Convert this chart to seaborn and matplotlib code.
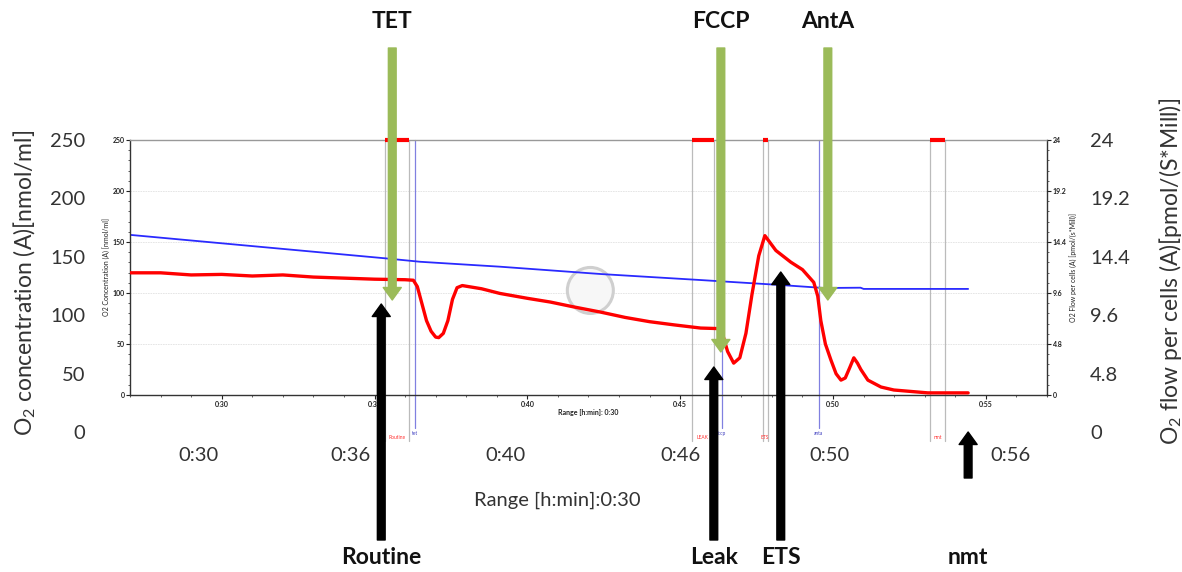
import matplotlib
matplotlib.use("Agg")
import matplotlib.pyplot as plt
import matplotlib.transforms as mtransforms
from matplotlib.patches import FancyArrowPatch, Ellipse
from matplotlib.ticker import MultipleLocator, FuncFormatter
import seaborn as sns
import pandas as pd

# ---------------- data ----------------
conc_time = [27.0, 35.35, 36.5, 39.1, 42.4, 45.67, 48.3, 49.7, 50.9, 51.0, 54.42]
conc_vals = [157, 134, 130.6, 125.8, 118.6, 112.7, 107.8, 104.9, 105.2, 104.0, 104.0]

flow_time = [27.0, 28.0, 29.0, 30.0, 31.0, 32.0, 33.0, 34.0, 35.0, 36.0, 36.27,
             36.4, 36.55, 36.7, 36.85, 37.0, 37.1, 37.25, 37.4, 37.55, 37.7, 37.87,
             38.5, 39.1, 40.0, 40.75, 41.5, 42.4, 43.2, 44.0, 44.8, 45.67, 46.26,
             46.4, 46.55, 46.75, 46.95, 47.15, 47.35, 47.57, 47.77, 47.95, 48.13,
             48.62, 49.0, 49.37, 49.5, 49.6, 49.75, 49.93, 50.1, 50.26, 50.4, 50.55,
             50.68, 50.8, 50.91, 51.14, 51.57, 51.99, 53.1, 54.42]
flow_vals = [11.5, 11.5, 11.3, 11.35, 11.2, 11.3, 11.1, 11.0, 10.9, 10.85, 10.8,
             10.2, 8.6, 7.0, 6.0, 5.45, 5.4, 5.8, 7.0, 9.0, 10.1, 10.3,
             10.0, 9.56, 9.1, 8.75, 8.3, 7.8, 7.3, 6.9, 6.6, 6.3, 6.25,
             5.6, 4.1, 3.0, 3.5, 5.8, 9.5, 13.1, 15.0, 14.3, 13.6,
             12.5, 11.8, 10.6, 9.3, 7.0, 4.8, 3.3, 2.0, 1.4, 1.6, 2.6,
             3.5, 3.0, 2.4, 1.4, 0.75, 0.47, 0.2, 0.2]

left_ticks = [0, 50, 100, 150, 200, 250]
right_ticks = [0, 4.8, 9.6, 14.4, 19.2, 24]
right_tick_labels = ["0", "4.8", "9.6", "14.4", "19.2", "24"]
inner_x_ticks = [30, 35, 40, 45, 50, 55]
outer_x_labels = ["0:30", "0:36", "0:40", "0:46", "0:50", "0:56"]

mark_names = ["Routine", "LEAK", "ETS", "nmt"]
mark_start = [35.35, 45.38, 47.70, 53.17]
mark_end = [36.14, 46.10, 47.86, 53.66]
event_names = ["tet", "fccp", "anta"]
event_time = [36.33, 46.36, 49.53]

titration_labels = ["TET", "FCCP", "AntA"]
titration_time = [35.58, 46.33, 49.83]
state_labels = ["Routine", "Leak", "ETS", "nmt"]
state_time = [35.22, 46.10, 48.29, 54.42]

# ---------------- layout constants ----------------
W, H = 1182, 572
outer_x_label_pos = [29.23, 34.2, 39.3, 45.0, 49.9, 55.8]
titration_tip_px = [300, 352, 300]
state_tip_px = [304, 367, 272, 432]
state_base_px = [540, 540, 540, 478]

sns.set_theme(style="white")
plt.rcParams["font.family"] = ["Lato", "DejaVu Sans"]
plt.rcParams["mathtext.fontset"] = "custom"
plt.rcParams["mathtext.rm"] = "Lato"

fig = plt.figure(figsize=(W / 100, H / 100), dpi=100)
fig.patch.set_facecolor("white")

def fx(px):
    return px / W

def fy(py):
    return 1 - py / H

# outer (overlay) axes for the big labels
axo = fig.add_axes([fx(130), fy(432), fx(1047) - fx(130), fy(140) - fy(432)])
axo.set_zorder(-2)
axo.patch.set_visible(False)
for s in axo.spines.values():
    s.set_visible(False)
axo.set_xlim(27, 57)
axo.set_ylim(0, 250)
axo.set_yticks(left_ticks)
axo.set_xticks(outer_x_label_pos)
axo.set_xticklabels(outer_x_labels)
axo.tick_params(axis="both", length=0, labelsize=14.5, colors="#333333")
axo.tick_params(axis="y", pad=32)
axo.tick_params(axis="x", pad=11)
axo.set_ylabel(r"O$_\mathregular{2}$ concentration (A)[nmol/ml]", fontsize=16.5,
               color="#333333")
axo.yaxis.set_label_coords(-0.1, 0.51)
axo.set_xlabel("Range [h:min]:0:30", fontsize=14.5, color="#333333")
axo.xaxis.set_label_coords((557 - 130) / 917, -0.205)

axo2 = axo.twinx()
axo2.set_zorder(-2)
axo2.patch.set_visible(False)
for s in axo2.spines.values():
    s.set_visible(False)
axo2.set_ylim(0, 24)
axo2.set_yticks(right_ticks)
axo2.set_yticklabels(right_tick_labels)
axo2.tick_params(axis="y", length=0, labelsize=14.5, colors="#333333", pad=31)
axo2.set_ylabel(r"O$_\mathregular{2}$ flow per cells (A)[pmol/(S*Mill)]", fontsize=16.5,
                color="#333333", rotation=90)
axo2.yaxis.set_label_coords(1.12, 0.55)

# inner (instrument) axes
ax = fig.add_axes([fx(130), fy(395), fx(1047) - fx(130), fy(140) - fy(395)])
ax.set_facecolor("white")
df_c = pd.DataFrame({"t": conc_time, "v": conc_vals})
df_f = pd.DataFrame({"t": flow_time, "v": flow_vals})

# mark boxes / events
for name, a, b in zip(mark_names, mark_start, mark_end):
    for xx in (a, b):
        ax.axvline(xx, ymin=-0.18, ymax=1, color="#BBBBBB", lw=0.9, clip_on=False, zorder=1)
    ax.hlines(250, a, b, color="#FF0000", lw=3, clip_on=False, zorder=3)
    ax.text((a + b) / 2, -0.165, name, color="#FF3030", fontsize=3.5,
            ha="center", va="center",
            transform=mtransforms.blended_transform_factory(ax.transData, ax.transAxes))
for name, t in zip(event_names, event_time):
    ax.axvline(t, ymin=-0.13, ymax=1, color="#8080E0", lw=0.9, clip_on=False, zorder=1)
    ax.text(t, -0.14, name, color="#4040C0", fontsize=3.5, ha="center", va="top",
            transform=mtransforms.blended_transform_factory(ax.transData, ax.transAxes))

for yy in [50, 100, 150, 200]:
    ax.axhline(yy, color="#E2E2E2", lw=0.6, ls=(0, (2, 1)), zorder=0)

sns.lineplot(data=df_c, x="t", y="v", ax=ax, color="#2A2AFF", lw=1.3, zorder=2)
ax.set_xlim(27, 57)
ax.set_ylim(0, 250)
ax.set_xticks(inner_x_ticks)
ax.xaxis.set_major_formatter(FuncFormatter(lambda v, p: "0:%02d" % int(round(v))))
ax.xaxis.set_minor_locator(MultipleLocator(1))
ax.set_yticks(left_ticks)
ax.yaxis.set_minor_locator(MultipleLocator(10))
ax.tick_params(axis="both", which="major", length=3, width=0.8, labelsize=5,
               colors="#222222", pad=1, direction="out")
ax.tick_params(axis="both", which="minor", length=1.5, width=0.6, colors="#444444")
ax.tick_params(axis="x", which="both", bottom=True)
ax.tick_params(axis="y", which="both", left=True)
ax.set_xlabel("Range [h:min]: 0:30", fontsize=5, fontweight="bold", labelpad=1, color="#222222")
ax.set_ylabel("O2 Concentration (A) [nmol/ml]", fontsize=5, labelpad=2, color="#222222")
for s in ["left", "bottom", "right"]:
    ax.spines[s].set_color("#333333")
    ax.spines[s].set_linewidth(1.0)
ax.spines["top"].set_color("#999999")
ax.spines["top"].set_linewidth(1.0)
for lab in ax.get_xticklabels() + ax.get_yticklabels():
    lab.set_fontweight("bold")

# watermark logo
ax.add_patch(Ellipse((0.502, 0.41), 46 / 917, 46 / 255, transform=ax.transAxes,
                     facecolor="#F7F7F7", edgecolor="#CFCFCF", lw=2.2, zorder=0.5))

ax2 = ax.twinx()
sns.lineplot(data=df_f, x="t", y="v", ax=ax2, color="#FF0000", lw=2.4, zorder=3)
ax2.set_ylim(0, 24)
ax2.set_yticks(right_ticks)
ax2.set_yticklabels(right_tick_labels)
ax2.yaxis.set_minor_locator(MultipleLocator(0.96))
ax2.tick_params(axis="y", which="major", length=3, width=0.8, labelsize=5, colors="#222222",
                pad=1, right=True)
ax2.tick_params(axis="y", which="minor", length=1.5, width=0.6, right=True, colors="#444444")
ax2.set_ylabel("O2 Flow per cells (A) [pmol/(s*Mill)]", fontsize=5, color="#222222", labelpad=2)
for lab in ax2.get_yticklabels():
    lab.set_fontweight("bold")
for s in ax2.spines.values():
    s.set_visible(False)
ax.set_xlim(27, 57)

# arrows
blend = mtransforms.blended_transform_factory(ax.transData, fig.transFigure)
style = "simple,head_width=13,head_length=9,tail_width=5.6"
for lab, t, tip in zip(titration_labels, titration_time, titration_tip_px):
    arr = FancyArrowPatch((t, fy(48)), (t, fy(tip)), transform=blend, arrowstyle=style,
                          mutation_scale=1, color="#9BBB59", shrinkA=0, shrinkB=0, zorder=5)
    fig.add_artist(arr)
    fig.text(t, fy(22), lab, transform=blend, fontsize=16.5, fontweight="bold",
             ha="center", va="center", color="#111111")
for lab, t, tip, base in zip(state_labels, state_time, state_tip_px, state_base_px):
    arr = FancyArrowPatch((t, fy(base)), (t, fy(tip)), transform=blend, arrowstyle=style,
                          mutation_scale=1, color="#000000", shrinkA=0, shrinkB=0, zorder=5)
    fig.add_artist(arr)
    fig.text(t, fy(557), lab, transform=blend, fontsize=16.5, fontweight="bold",
             ha="center", va="center", color="#111111")

fig.savefig("out.png", dpi=100, facecolor="white")
